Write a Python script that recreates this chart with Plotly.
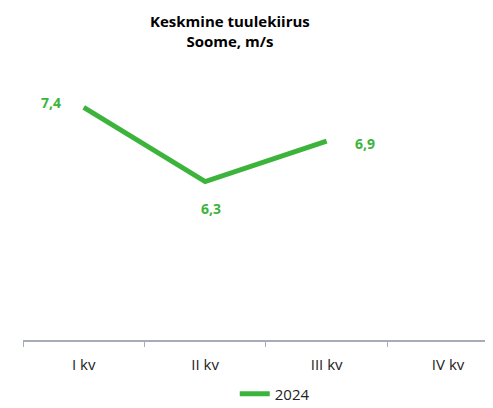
import plotly.graph_objects as go

categories = ["I kv", "II kv", "III kv", "IV kv"]
values_2024 = [7.4, 6.3, 6.9, None]
value_labels = ["7,4", "6,3", "6,9", ""]
series_name = "2024"
title_lines = ["Keskmine tuulekiirus", "Soome, m/s"]

GREEN = "#3CB43C"
FONT = "Open Sans"

fig = go.Figure()
fig.add_trace(go.Scatter(
    x=categories, y=values_2024, mode="lines", name=series_name,
    line=dict(color=GREEN, width=5), connectgaps=False,
))

shifts = [(-33, 5), (6, -27), (38, -2), (0, 0)]
for c, v, t, (dx, dy) in zip(categories, values_2024, value_labels, shifts):
    if v is None:
        continue
    fig.add_annotation(x=c, y=v, text="<b>%s</b>" % t, showarrow=False,
                       xshift=dx, yshift=dy,
                       font=dict(family=FONT, size=14, color=GREEN))

fig.add_annotation(
    text="<b>" + "<br>".join(title_lines) + "</b>",
    xref="paper", yref="paper", x=0.44, y=1.132,
    xanchor="center", yanchor="middle", showarrow=False,
    font=dict(family=FONT, size=15, color="black"),
)

fig.update_layout(
    width=485, height=400,
    paper_bgcolor="white", plot_bgcolor="white",
    margin=dict(l=15, r=0, t=59, b=68),
    font=dict(family=FONT, size=14, color="#222"),
    showlegend=True,
    legend=dict(orientation="h", xref="container", yref="container",
                x=0.55, xanchor="center", y=0.035, yanchor="middle",
                font=dict(family=FONT, size=15, color="#222")),
)
fig.update_xaxes(
    type="category", categoryarray=categories, range=[-0.5, 3.37],
    showline=True, linecolor="#A6ACB8", linewidth=1.5,
    ticks="outside", tickson="boundaries", ticklen=5, tickcolor="#A6ACB8",
    ticklabelstandoff=10, tickfont=dict(size=15),
    showgrid=False, zeroline=False, fixedrange=True,
)
fig.update_yaxes(range=[3.95, 8], visible=False, showgrid=False, zeroline=False)

fig.write_html("out.html")
